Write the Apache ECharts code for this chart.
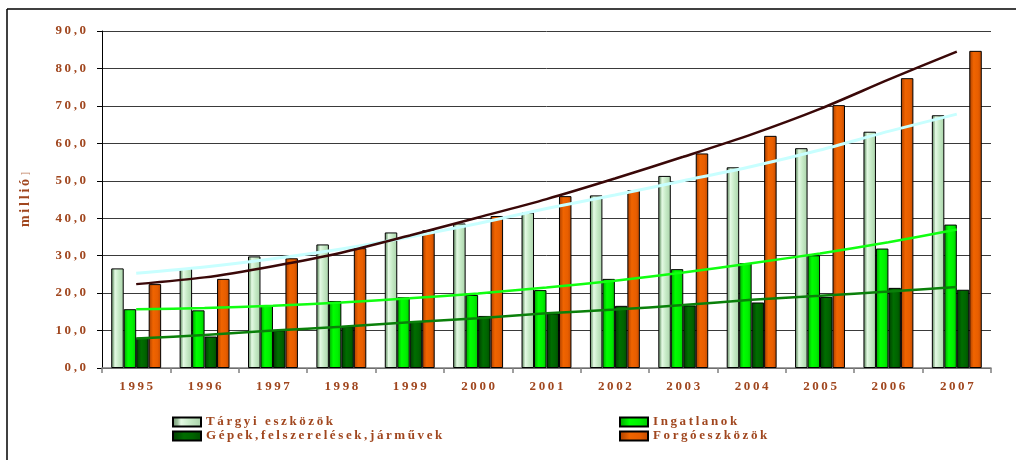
<!DOCTYPE html>
<html>
<head>
<meta charset="utf-8">
<script src="https://cdn.jsdelivr.net/npm/echarts@6/dist/echarts.min.js"></script>
<style>
html,body{margin:0;padding:0;background:#fff;}
#chart{width:1016px;height:460px;}
</style>
</head>
<body>
<div id="chart"></div>
<script>
// ---- data ----
const years = ['1995','1996','1997','1998','1999','2000','2001','2002','2003','2004','2005','2006','2007'];
const seriesNames = ['Tárgyi eszközök', 'Ingatlanok', 'Gépek,felszerelések,járművek', 'Forgóeszközök'];
const targyi   = [26.6, 26.6, 29.8, 33.0, 36.2, 38.6, 41.5, 46.1, 51.3, 53.6, 58.7, 63.1, 67.5];
const ingatlan = [15.7, 15.4, 16.7, 17.9, 18.9, 19.5, 20.8, 23.8, 26.4, 28.0, 30.1, 31.9, 38.3];
const gepek    = [8.1, 8.4, 10.0, 11.1, 12.4, 13.9, 14.6, 16.6, 16.7, 17.5, 19.0, 21.4, 20.9];
const forgo    = [22.4, 23.8, 29.3, 32.0, 36.8, 40.6, 45.9, 47.5, 57.3, 62.0, 70.2, 77.4, 84.7];
// trend lines (at each year)
const trendTargyi   = [25.3, 27.0, 29.2, 31.8, 35.0, 38.6, 42.6, 46.2, 50.0, 53.8, 58.2, 63.2, 67.8];
const trendIngatlan = [15.7, 16.0, 16.6, 17.5, 18.6, 19.9, 21.5, 23.3, 25.5, 28.0, 30.6, 33.6, 37.0];
const trendGepek    = [7.9, 8.8, 10.0, 11.0, 12.2, 13.3, 14.6, 15.6, 16.8, 18.2, 19.3, 20.4, 21.6];
const trendForgo    = [22.4, 24.2, 27.2, 30.8, 35.4, 40.2, 45.1, 50.6, 56.4, 62.4, 69.2, 77.0, 84.5];
const yTicks = {min: 0, max: 90, interval: 10};
const yTitle = 'millió';

// ---- styling ----
const brown = '#A0461E';
const font = 'Liberation Serif';
const sp = s => String(s).split('').join('\u2009');

function grad(stops) {
  return new echarts.graphic.LinearGradient(0, 0, 1, 0, stops.map(c => ({offset: c[0], color: c[1]})));
}
const fills = [
  grad([[0,'#6F8F6F'],[0.18,'#9CC09C'],[0.3,'#E4FAE4'],[0.6,'#C6EAC6'],[1,'#A9D2A9']]),
  grad([[0,'#00A000'],[0.35,'#00FF00'],[0.7,'#00F000'],[1,'#00C800']]),
  grad([[0,'#003A00'],[0.4,'#006E00'],[0.7,'#006400'],[1,'#004C00']]),
  grad([[0,'#A83E00'],[0.35,'#F06400'],[0.7,'#E85E00'],[1,'#C04A00']])
];
const barData = [targyi, ingatlan, gepek, forgo];

const chart = echarts.init(document.getElementById('chart'), null, {renderer: 'canvas'});

const barSeries = seriesNames.map((n, i) => ({
  name: n,
  type: 'bar',
  data: barData[i],
  barGap: '0%',
  barCategoryGap: '27%',
  itemStyle: {color: fills[i], borderColor: '#000', borderWidth: 1},
  z: 2
}));

function trend(data, color, width) {
  return {
    type: 'line', data: data, smooth: 0.25, symbol: 'none',
    lineStyle: {color: color, width: width}, z: 5, silent: true
  };
}

const legendText = {fontFamily: font, fontWeight: 'bold', fontSize: 13, color: brown, lineHeight: 14};
function leg(name, left, top) {
  return {
    data: [name], left: left, top: top, itemWidth: 28, itemHeight: 9, icon: 'rect',
    selectedMode: false, formatter: n => sp(n), textStyle: legendText, padding: 0
  };
}

chart.setOption({
  animation: false,
  backgroundColor: '#fff',
  grid: {left: 102, right: 25, top: 31, bottom: 92},
  legend: [
    leg(seriesNames[0], 172, 415),
    leg(seriesNames[1], 619, 415),
    leg(seriesNames[2], 172, 429),
    leg(seriesNames[3], 619, 429)
  ],
  xAxis: {
    type: 'category',
    data: years,
    axisLine: {lineStyle: {color: '#808080', width: 1.5}},
    axisTick: {show: true, length: 5, lineStyle: {color: '#808080', width: 1.5}},
    axisLabel: {
      margin: 12, fontFamily: font, fontWeight: 'bold', fontSize: 13, color: brown,
      formatter: v => sp(v)
    }
  },
  yAxis: {
    type: 'value',
    min: yTicks.min, max: yTicks.max, interval: yTicks.interval,
    name: '{a|' + sp(yTitle) + '} {b|]}',
    nameLocation: 'middle',
    nameGap: 70,
    nameTextStyle: {
      rich: {
        a: {fontFamily: font, fontWeight: 'bold', fontSize: 14, color: brown},
        b: {fontFamily: font, fontWeight: 'normal', fontSize: 11, color: '#C08060'}
      }
    },
    axisLine: {show: true, lineStyle: {color: '#000', width: 1}},
    axisTick: {show: true, length: 5, lineStyle: {color: '#000'}},
    splitLine: {show: true, lineStyle: {color: '#3a3a3a', width: 1}},
    axisLabel: {
      margin: 16, fontFamily: font, fontWeight: 'bold', fontSize: 13, color: brown,
      formatter: v => sp(v.toFixed(1).replace('.', ','))
    }
  },
  series: barSeries.concat([
    trend(trendTargyi, '#C8FFFF', 3),
    trend(trendIngatlan, '#10FF10', 2.5),
    trend(trendGepek, '#0A800A', 2.5),
    trend(trendForgo, '#3A0808', 2.5)
  ]),
  graphic: [
    {type: 'line', shape: {x1: 7, y1: 9, x2: 1016, y2: 9}, style: {stroke: '#000', lineWidth: 1.5}, silent: true},
    {type: 'line', shape: {x1: 7, y1: 9, x2: 7, y2: 460}, style: {stroke: '#000', lineWidth: 1.5}, silent: true}
  ]
});
</script>
</body>
</html>
